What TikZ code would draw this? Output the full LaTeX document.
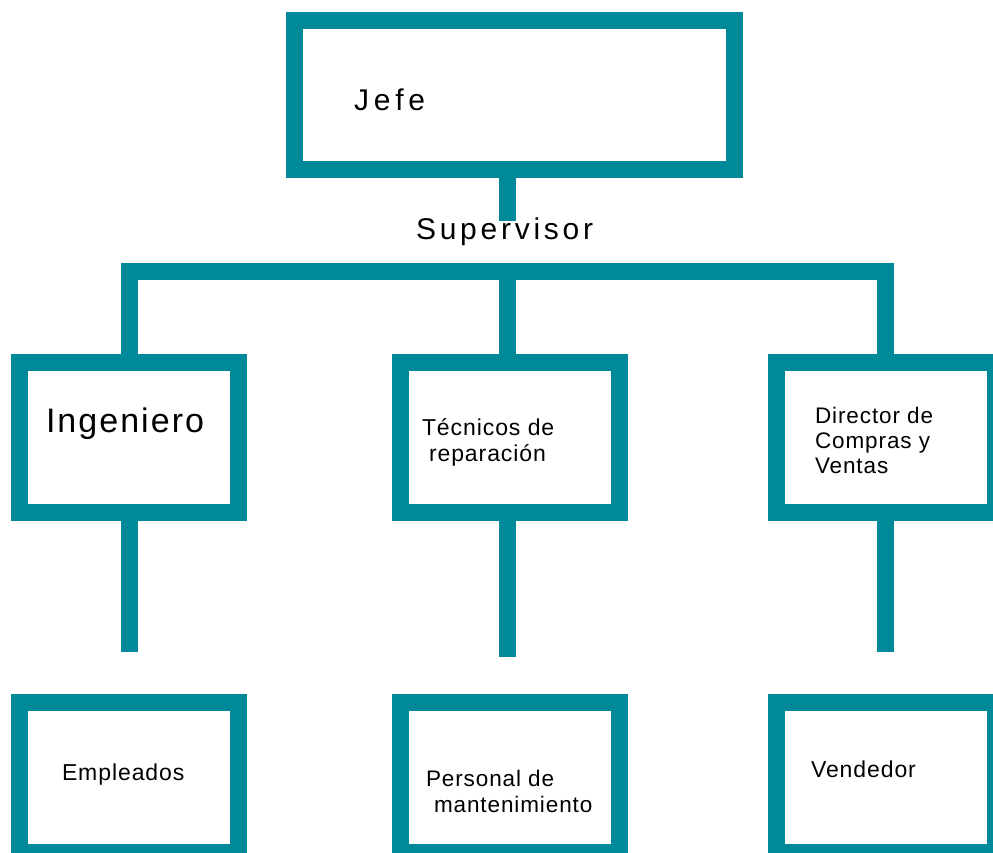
\documentclass[tikz,border=0pt]{standalone}
\usepackage{fontspec}
\setmainfont{Liberation Sans}
\definecolor{orgteal}{RGB}{0,137,153}
\begin{document}
\begin{tikzpicture}[x=1pt,y=-1pt,
  box/.style={draw=orgteal, line width=17pt, rectangle, minimum width=219pt, minimum height=150pt, inner sep=0pt},
  conn/.style={draw=orgteal, line width=17pt, line join=miter},
  lbl/.style={anchor=base west, inner sep=0pt, outer sep=0pt, text=black},
  fjefe/.style={font=\fontsize{30}{36}\selectfont\addfontfeatures{LetterSpace=16}},
  fsup/.style={font=\fontsize{30}{36}\selectfont\addfontfeatures{LetterSpace=12.5}},
  fing/.style={font=\fontsize{34}{40}\selectfont\addfontfeatures{LetterSpace=6}},
  fsmall/.style={font=\fontsize{23}{26}\selectfont\addfontfeatures{LetterSpace=4}},
  fdir/.style={font=\fontsize{22.5}{25}\selectfont\addfontfeatures{LetterSpace=4}}]
\useasboundingbox (0,0) rectangle (993,853);
% boxes
\node[box, minimum width=440pt, minimum height=149pt] (jefe) at (514.5,95) {};
\node[box] (ing) at (129,437.5) {};
\node[box] (tec) at (510,437.5) {};
\node[box] (dir) at (885.5,437.5) {};
\node[box] (emp) at (129,777.5) {};
\node[box] (per) at (510,777.5) {};
\node[box] (ven) at (885.5,777.5) {};
% connector points
\coordinate (hub) at (507,271);
\coordinate (supend) at (507,221);
\coordinate (ingend) at (129,652);
\coordinate (tecend) at (507,657);
\coordinate (dirend) at (885.5,652);
% connectors
\draw[conn] (jefe.south -| hub) -- (supend);
\draw[conn] (ing.north) -- (ing.north |- hub) -- (dir.north |- hub) -- (dir.north);
\draw[conn] (hub) -- (tec.north -| hub);
\draw[conn] (ing.south) -- (ingend);
\draw[conn] (tec.south -| tecend) -- (tecend);
\draw[conn] (dir.south) -- (dirend);
% texts
\node[lbl, fjefe] (tjefe) at (354,111) {Jefe};
\node[lbl, fsup] (tsup) at (416,240) {Supervisor};
\node[lbl, fing] (ting) at (46,432) {Ingeniero};
\node[lbl, fsmall] (ttec) at (422,435) {\vtop{\hbox{Técnicos de}\hbox{\kern7pt reparación}}};
\node[lbl, fdir] (tdir) at (815,423) {\vtop{\hbox{Director de}\hbox{Compras y}\hbox{Ventas}}};
\node[lbl, fsmall] (temp) at (62,780) {Empleados};
\node[lbl, fdir] (tper) at (426,786) {\vtop{\baselineskip=26pt\hbox{Personal de}\hbox{\kern8pt mantenimiento}}};
\node[lbl, fsmall] (tven) at (811,777) {Vendedor};
\end{tikzpicture}
\end{document}
